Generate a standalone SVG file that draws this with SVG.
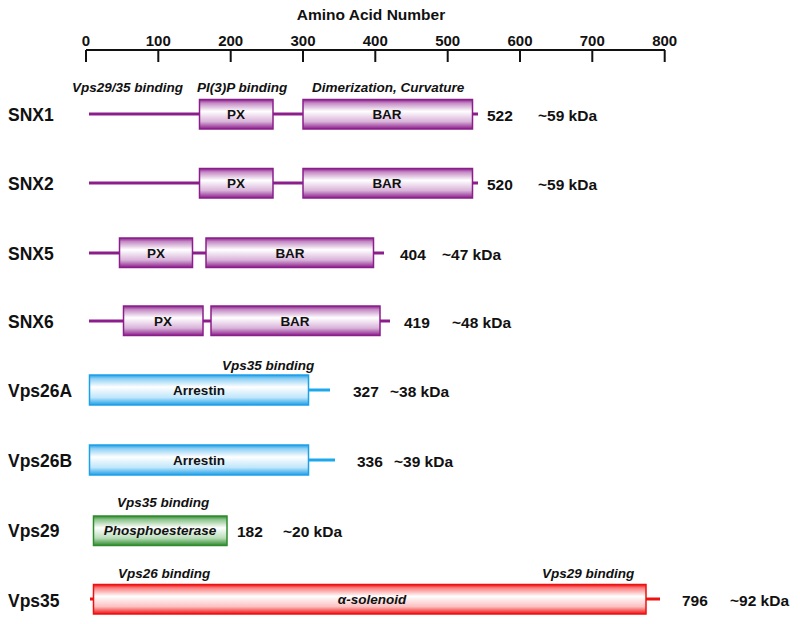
<svg xmlns="http://www.w3.org/2000/svg" width="800" height="624" viewBox="0 0 800 624">
<defs>
<linearGradient id="gP" x1="0" y1="0" x2="0" y2="1">
<stop offset="0" stop-color="#8b1e8b"/><stop offset="0.12" stop-color="#c48ac4"/><stop offset="0.4" stop-color="#ffffff"/><stop offset="0.75" stop-color="#d9b3d9"/><stop offset="1" stop-color="#8b1e8b"/>
</linearGradient>
<linearGradient id="gB" x1="0" y1="0" x2="0" y2="1">
<stop offset="0" stop-color="#1ea0e8"/><stop offset="0.12" stop-color="#8fd0f4"/><stop offset="0.4" stop-color="#ffffff"/><stop offset="0.75" stop-color="#bfe6fa"/><stop offset="1" stop-color="#1ea0e8"/>
</linearGradient>
<linearGradient id="gG" x1="0" y1="0" x2="0" y2="1">
<stop offset="0" stop-color="#2e8b2e"/><stop offset="0.12" stop-color="#8cc48c"/><stop offset="0.4" stop-color="#ffffff"/><stop offset="0.75" stop-color="#b8dcb8"/><stop offset="1" stop-color="#2e8b2e"/>
</linearGradient>
<linearGradient id="gR" x1="0" y1="0" x2="0" y2="1">
<stop offset="0" stop-color="#f01010"/><stop offset="0.12" stop-color="#fa8080"/><stop offset="0.4" stop-color="#ffffff"/><stop offset="0.75" stop-color="#fcc0c0"/><stop offset="1" stop-color="#f01010"/>
</linearGradient>
</defs>
<style>
text{font-family:"Liberation Sans",Arial,sans-serif;font-weight:bold;fill:#111}
.ax{font-size:15px;text-anchor:middle}
.name{font-size:17.5px}
.num{font-size:15.5px}
.dom{font-size:13.5px;text-anchor:middle}
.ann{font-size:13.5px;font-style:italic}
.axl{stroke:#111;stroke-width:2;fill:none}
.lp{stroke:#8b1e8b;stroke-width:3}
.lb{stroke:#1ea8ec;stroke-width:3}
.lr{stroke:#ee1111;stroke-width:3}
.bp{fill:url(#gP);stroke:#8b1e8b;stroke-width:1.5}
.bb{fill:url(#gB);stroke:#1ea0e8;stroke-width:1.5}
.bg{fill:url(#gG);stroke:#2e8b2e;stroke-width:1.5}
.br{fill:url(#gR);stroke:#ee1111;stroke-width:1.5}
</style>
<g id="axis">
<text x="371" y="20" style="font-size:15.5px;text-anchor:middle">Amino Acid Number</text>
<path class="axl" d="M86 50H665M86 50V62M158.3 50V62M230.7 50V62M303 50V62M375.3 50V62M447.7 50V62M520 50V62M592.3 50V62M664.7 50V62"/>
<text class="ax" x="86" y="46">0</text>
<text class="ax" x="158.3" y="46">100</text>
<text class="ax" x="230.7" y="46">200</text>
<text class="ax" x="303" y="46">300</text>
<text class="ax" x="375.3" y="46">400</text>
<text class="ax" x="447.7" y="46">500</text>
<text class="ax" x="520" y="46">600</text>
<text class="ax" x="592.3" y="46">700</text>
<text class="ax" x="664.7" y="46">800</text>
</g>
<g id="connectors">
<line class="lp" x1="89" y1="114" x2="478" y2="114"/>
<line class="lp" x1="89" y1="183" x2="478" y2="183"/>
<line class="lp" x1="89" y1="253" x2="384" y2="253"/>
<line class="lp" x1="89" y1="321" x2="390" y2="321"/>
<line class="lb" x1="300" y1="390" x2="330" y2="390"/>
<line class="lb" x1="300" y1="460" x2="335" y2="460"/>
<line class="lr" x1="90" y1="599" x2="100" y2="599"/>
<line class="lr" x1="640" y1="599" x2="660" y2="599"/>
</g>
<g id="SNX1">
<text class="name" x="8" y="121">SNX1</text>
<text class="ann" x="72" y="92">Vps29/35 binding</text>
<text class="ann" x="197" y="92">PI(3)P binding</text>
<text class="ann" x="312" y="92">Dimerization, Curvature</text>
<rect class="bp" x="199.5" y="99.5" width="73.5" height="29.5"/>
<text class="dom" x="236" y="119">PX</text>
<rect class="bp" x="303" y="99.5" width="169.5" height="29.5"/>
<text class="dom" x="387" y="119">BAR</text>
<text class="num" x="487" y="121">522</text>
<text class="num" x="538" y="121">~59 kDa</text>
</g>
<g id="SNX2">
<text class="name" x="8" y="190">SNX2</text>
<rect class="bp" x="199.5" y="168.5" width="73.5" height="29.5"/>
<text class="dom" x="236" y="188">PX</text>
<rect class="bp" x="303" y="168.5" width="169.5" height="29.5"/>
<text class="dom" x="387" y="188">BAR</text>
<text class="num" x="487" y="190">520</text>
<text class="num" x="538" y="190">~59 kDa</text>
</g>
<g id="SNX5">
<text class="name" x="8" y="260">SNX5</text>
<rect class="bp" x="119.5" y="238" width="73" height="29.5"/>
<text class="dom" x="156" y="258">PX</text>
<rect class="bp" x="206" y="238" width="167.5" height="29.5"/>
<text class="dom" x="290" y="258">BAR</text>
<text class="num" x="400" y="260">404</text>
<text class="num" x="442" y="260">~47 kDa</text>
</g>
<g id="SNX6">
<text class="name" x="8" y="328">SNX6</text>
<rect class="bp" x="123.5" y="306" width="79.5" height="29.5"/>
<text class="dom" x="163" y="326">PX</text>
<rect class="bp" x="211" y="306" width="169" height="29.5"/>
<text class="dom" x="295" y="326">BAR</text>
<text class="num" x="404" y="328">419</text>
<text class="num" x="452" y="328">~48 kDa</text>
</g>
<g id="Vps26A">
<text class="name" x="8" y="397">Vps26A</text>
<text class="ann" x="222" y="370">Vps35 binding</text>
<rect class="bb" x="89.5" y="375" width="219" height="30"/>
<text class="dom" x="199" y="395">Arrestin</text>
<text class="num" x="353" y="397">327</text>
<text class="num" x="390" y="397">~38 kDa</text>
</g>
<g id="Vps26B">
<text class="name" x="8" y="467">Vps26B</text>
<rect class="bb" x="89.5" y="445" width="219" height="30"/>
<text class="dom" x="199" y="465">Arrestin</text>
<text class="num" x="357" y="467">336</text>
<text class="num" x="394" y="467">~39 kDa</text>
</g>
<g id="Vps29">
<text class="name" x="8" y="537">Vps29</text>
<text class="ann" x="117" y="507">Vps35 binding</text>
<rect class="bg" x="93.5" y="516" width="133.5" height="29.5"/>
<text class="ann" x="160" y="535" style="text-anchor:middle">Phosphoesterase</text>
<text class="num" x="237" y="537">182</text>
<text class="num" x="283" y="537">~20 kDa</text>
</g>
<g id="Vps35">
<text class="name" x="8" y="607">Vps35</text>
<text class="ann" x="118" y="578">Vps26 binding</text>
<text class="ann" x="542" y="578">Vps29 binding</text>
<rect class="br" x="93.5" y="584.5" width="552.5" height="29.5"/>
<text class="ann" x="372" y="604" style="text-anchor:middle">α-solenoid</text>
<text class="num" x="682" y="606">796</text>
<text class="num" x="730" y="606">~92 kDa</text>
</g>
</svg>
